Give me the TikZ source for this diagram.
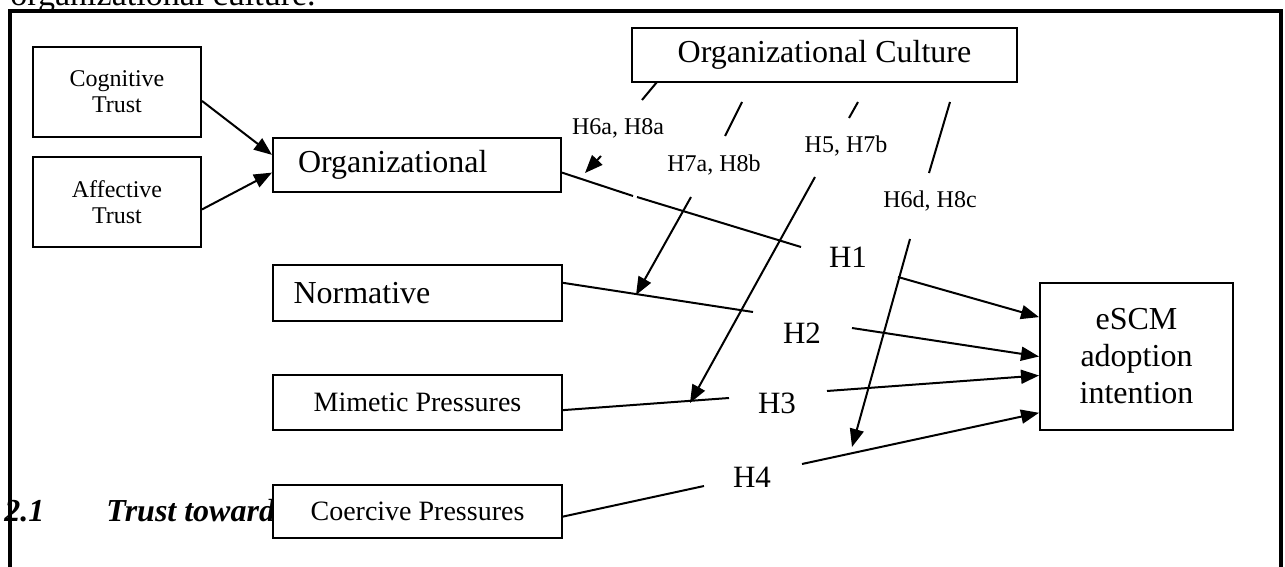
\documentclass[tikz,border=0pt]{standalone}
\usepackage{fontspec}
\setmainfont{Liberation Serif}
\usetikzlibrary{arrows.meta}

\tikzset{
  box/.style={draw, line width=1pt, fill=white, inner sep=0pt, align=center},
  link/.style={line width=1pt},
  arr/.style={line width=1pt, -{Triangle[length=9pt,width=7pt]}},
  hlabel/.style={inner sep=0pt, font=\fontsize{15.5}{18}\selectfont},
  mlabel/.style={inner sep=0pt, text depth=0pt, font=\fontsize{12}{14}\selectfont},
}

\begin{document}
\begin{tikzpicture}[x=0.5pt,y=-0.5pt]
            \useasboundingbox (0,0) rectangle (1285,567);

            % Page text around the figure
            \node [anchor=base west, inner sep=0pt, font=\fontsize{17}{20}\selectfont] (pagetext) at (10,6) {organizational culture.};%
            \node [anchor=base west, inner sep=0pt, font=\fontsize{16}{19}\selectfont\bfseries\itshape] (secnum) at (4,521) {2.1};%
            \node [anchor=base west, inner sep=0pt, font=\fontsize{16}{19}\selectfont\bfseries\itshape] (sectitle) at (106,521) {Trust toward};%

            % Boxes
            \node [box, minimum width=84pt, minimum height=45pt, font=\fontsize{12}{13}\selectfont] (cog) at (117,92) {Cognitive\\Trust};%
            \node [box, minimum width=84pt, minimum height=45pt, font=\fontsize{12}{13}\selectfont] (aff) at (117,202) {Affective\\Trust};%
            \node [box, minimum width=144pt, minimum height=27pt, text width=119pt, inner xsep=12.5pt, align=left, font=\fontsize{16}{18.5}\selectfont] (org) at (417,165) {Organizational};%
            \node [box, minimum width=144.5pt, minimum height=28pt, text width=124pt, inner xsep=10.25pt, align=left, font=\fontsize{16}{18.5}\selectfont] (norm) at (417.5,293) {Normative};%
            \node [box, minimum width=144.5pt, minimum height=27.5pt, font=\fontsize{14}{16}\selectfont] (mim) at (417.5,402.5) {Mimetic Pressures};%
            \node [box, minimum width=144.5pt, minimum height=26.5pt, font=\fontsize{14}{16}\selectfont] (coer) at (417.5,511.5) {Coercive Pressures};%
            \node [box, minimum width=192.5pt, minimum height=27pt, font=\fontsize{16}{18.5}\selectfont] (cult) at (824.5,55) {Organizational Culture};%
            \node [box, minimum width=96.5pt, minimum height=73.5pt, font=\fontsize{16}{18.5}\selectfont] (escm) at (1136.5,356.5) {eSCM\\adoption\\intention};%

            % Frame
            \draw [line width=2pt] (10,11) rectangle (1281,620);%

            % Hypothesis labels
            \node [hlabel] (h1) at (848,257) {H1};%
            \node [hlabel] (h2) at (802,333) {H2};%
            \node [hlabel] (h3) at (777,403) {H3};%
            \node [hlabel] (h4) at (752,477) {H4};%
            \node [mlabel] (h6a) at (618,127) {H6a, H8a};%
            \node [mlabel] (h7a) at (714,163) {H7a, H8b};%
            \node [mlabel] (h5) at (846,144) {H5, H7b};%
            \node [mlabel] (h6d) at (930,199) {H6d, H8c};%

            % Break points of the segments
            \coordinate (o1) at (633,196);
            \coordinate (o2) at (637,197);
            \coordinate (o3) at (801,247);
            \coordinate (o4) at (898,277);
            \coordinate (n1) at (753,312);
            \coordinate (n2) at (852,328);
            \coordinate (p1) at (729,398);
            \coordinate (p2) at (827,391);
            \coordinate (c1) at (704,486);
            \coordinate (c2) at (802,464);
            \coordinate (a1) at (657,82);
            \coordinate (a2) at (642,100);
            \coordinate (a3) at (601,156);
            \coordinate (a4) at (585,173);
            \coordinate (b1) at (742,102);
            \coordinate (b2) at (725,136);
            \coordinate (b3) at (691,197);
            \coordinate (b4) at (636,295);
            \coordinate (d1) at (858,102);
            \coordinate (d2) at (849,118);
            \coordinate (d3) at (815,177);
            \coordinate (d4) at (690,403);
            \coordinate (e1) at (950,102);
            \coordinate (e2) at (929,173);
            \coordinate (e3) at (910,239);
            \coordinate (e4) at (852,447);

            % Drawing trust arrows
            \draw [arr] (cog.-6.8) -- (org.176);%
            \draw [arr] (aff.-5.4) -- (org.183.6);%

            % Drawing segment org H1 escm
            \draw [link] (org.-3.6) -- (o1);%
            \draw [link] (o2) -- (o3);%
            \draw [arr] (o4) -- (escm.158.8);%

            % Drawing segment norm H2 escm
            \draw [link] (norm.4) -- (n1);%
            \draw [arr] (n2) -- (escm.180);%

            % Drawing segment mim H3 escm
            \draw [link] (mim.-3.4) -- (p1);%
            \draw [arr] (p2) -- (escm.191.4);%

            % Drawing segment coer H4 escm
            \draw [link] (coer.-2.2) -- (c1);%
            \draw [arr] (c2) -- (escm.210.3);%

            % Drawing culture moderators
            \draw [link] (a1) -- (a2);%
            \draw [arr] (a3) -- (a4);%
            \draw [link] (b1) -- (b2);%
            \draw [arr] (b3) -- (b4);%
            \draw [link] (d1) -- (d2);%
            \draw [arr] (d3) -- (d4);%
            \draw [link] (e1) -- (e2);%
            \draw [arr] (e3) -- (e4);%
\end{tikzpicture}
\end{document}
